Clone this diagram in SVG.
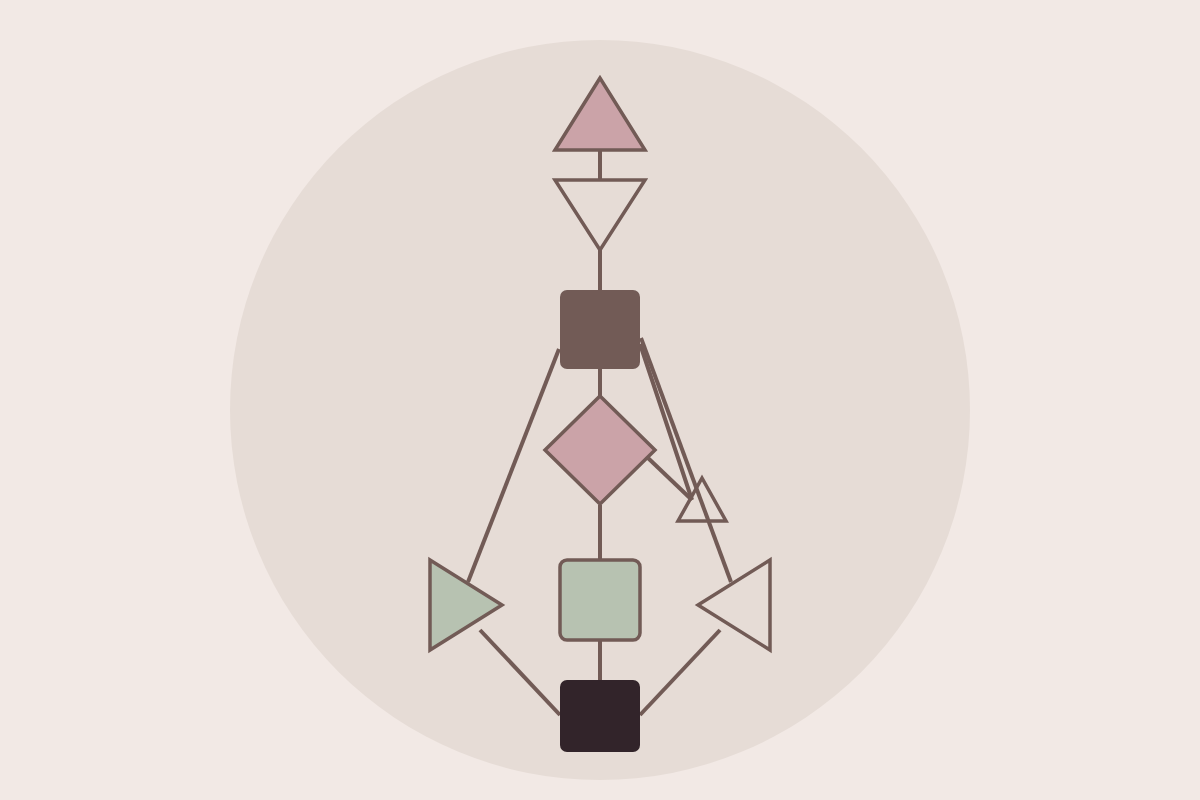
<svg xmlns="http://www.w3.org/2000/svg" width="1200" height="800" viewBox="0 0 1200 800">
<style>
.bg{fill:#f2e9e5}
.halo{fill:#e6dcd6}
.c{stroke:#725b56;stroke-width:4;fill:none;stroke-linecap:butt}
.s{stroke:#725b56;stroke-width:3.5;stroke-linejoin:miter}
.pink{fill:#cba3a8}
.green{fill:#b7c2b1}
.open{fill:none}
.brown{fill:#725b56}
.dark{fill:#32242a}
</style>
<rect class="bg" x="0" y="0" width="1200" height="800"/>
<circle class="halo" cx="600" cy="410" r="370"/>
<g id="connectors">
<line class="c" x1="600" y1="150" x2="600" y2="180"/>
<line class="c" x1="600" y1="250" x2="600" y2="290"/>
<line class="c" x1="600" y1="368" x2="600" y2="396"/>
<line class="c" x1="600" y1="505" x2="600" y2="560"/>
<line class="c" x1="600" y1="640" x2="600" y2="680"/>
<line class="c" x1="559" y1="349" x2="468" y2="582"/>
<line class="c" x1="640" y1="344" x2="692" y2="500"/>
<line class="c" x1="641" y1="338" x2="731" y2="582"/>
<line class="c" x1="648" y1="458" x2="692" y2="500"/>
<line class="c" x1="480" y1="630" x2="560" y2="715"/>
<line class="c" x1="720" y1="630" x2="640" y2="715"/>
</g>
<g id="head"><polygon class="s pink" points="600,78 555,150 645,150"/></g>
<g id="ajna"><polygon class="s open" points="555,180 645,180 600,250"/></g>
<g id="throat"><rect class="brown" x="560" y="290" width="80" height="79" rx="7"/></g>
<g id="g-center"><polygon class="s pink" points="600,396 655,450 600,504 545,450"/></g>
<g id="ego"><polygon class="s open" points="702,478 678,521 726,521"/></g>
<g id="spleen"><polygon class="s green" points="430,560 502,605 430,650"/></g>
<g id="sacral"><rect class="s green" x="560" y="560" width="80" height="80" rx="7"/></g>
<g id="solar-plexus"><polygon class="s open" points="770,560 698,605 770,650"/></g>
<g id="root"><rect class="dark" x="560" y="680" width="80" height="72" rx="7"/></g>
</svg>
